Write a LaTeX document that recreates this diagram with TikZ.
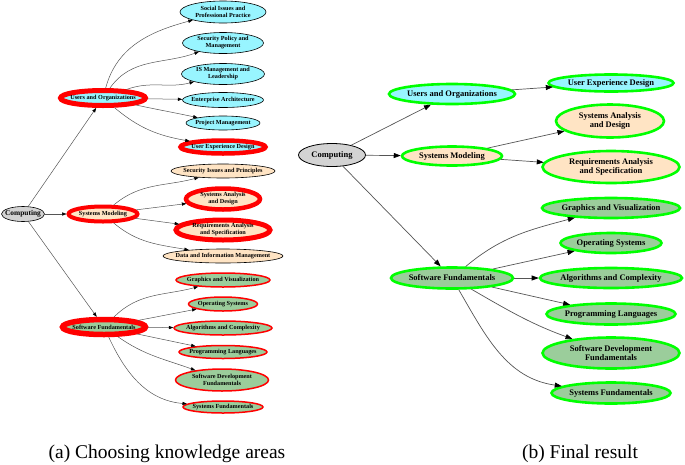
\documentclass[tikz,border=0pt]{standalone}
\usepackage{fontspec}
\setmainfont{Liberation Serif}
\usepackage{tikz}
\usetikzlibrary{arrows.meta,positioning,shapes.geometric}

\definecolor{rootgray}{HTML}{D3D3D3}
\definecolor{uocyan}{HTML}{98F5FF}
\definecolor{smbisque}{HTML}{FFE4C4}
\definecolor{sfgreen}{HTML}{9BCD9B}
\definecolor{pickred}{HTML}{FF0000}
\definecolor{keepgreen}{HTML}{00FF00}
\definecolor{edgegray}{HTML}{555555}

\begin{document}
\begin{tikzpicture}[
  x=1pt, y=-1pt,
  ka/.style={ellipse, draw=black, line width=0.6pt, inner sep=0pt},
  lt/.style={font=\fontsize{6.2}{7}\selectfont\rmfamily\bfseries, align=center},
  rt/.style={font=\fontsize{8.5}{9.6}\selectfont\rmfamily\bfseries, align=center},
  root/.style={ka, fill=rootgray},
  uo/.style={ka, fill=uocyan},
  sm/.style={ka, fill=smbisque},
  sf/.style={ka, fill=sfgreen},
  chosen/.style={draw=pickred, line width=#1},
  kept/.style={draw=keepgreen, line width=2.6pt},
  caption/.style={font=\fontsize{19.5}{22}\selectfont\rmfamily},
  larrow/.style={-{Triangle[length=4.5pt, width=3.2pt, color=black]}, draw=edgegray, line width=0.5pt},
  rarrow/.style={-{Triangle[length=7pt, width=5pt, color=black]}, draw=edgegray, line width=0.7pt}
]
\useasboundingbox (0,0) rectangle (685,464);

% (a) choosing knowledge areas
\node[root, minimum width=43, minimum height=15, label={[lt, font=\fontsize{7.4}{8}\selectfont\rmfamily\bfseries]center:Computing}] (lcomp) at (23,214) {};
\node[uo, chosen=5pt, minimum width=85, minimum height=15, label={[lt]center:Users and Organizations}] (luo) at (103,98) {};
\node[sm, chosen=4pt, minimum width=69, minimum height=15, label={[lt]center:Systems Modeling}] (lsm) at (103,214) {};
\node[sf, chosen=5.5pt, minimum width=83, minimum height=15, label={[lt]center:Software Fundamentals}] (lsf) at (104,327) {};

\node[uo, minimum width=86, minimum height=22, label={[lt]center:Social Issues and\\Professional Practice}] (lsipp) at (223,12) {};
\node[uo, minimum width=81, minimum height=21, label={[lt]center:Security Policy and\\Management}] (lspm) at (223,43) {};
\node[uo, minimum width=83, minimum height=21, label={[lt]center:IS Management and\\Leadership}] (lisml) at (223,74) {};
\node[uo, minimum width=81, minimum height=15, label={[lt]center:Enterprise Architecture}] (lea) at (223,100) {};
\node[uo, minimum width=74, minimum height=14, label={[lt]center:Project Management}] (lpm) at (223,123) {};
\node[uo, chosen=4.5pt, minimum width=85, minimum height=13, label={[lt]center:User Experience Design}] (luxd) at (223,147) {};

\node[sm, minimum width=104, minimum height=14, label={[lt]center:Security Issues and Principles}] (lsip) at (223,171) {};
\node[sm, chosen=4.5pt, minimum width=74, minimum height=21, label={[lt]center:Systems Analysis\\and Design}] (lsad) at (223,199) {};
\node[sm, chosen=5pt, minimum width=94, minimum height=20, label={[lt]center:Requirements Analysis\\and Specification}] (lras) at (223,230) {};
\node[sm, minimum width=120, minimum height=14, label={[lt]center:Data and Information Management}] (ldim) at (223,256) {};

\node[sf, chosen=1.5pt, minimum width=94, minimum height=14, label={[lt]center:Graphics and Visualization}] (lgv) at (223,280) {};
\node[sf, chosen=1.5pt, minimum width=69, minimum height=14, label={[lt]center:Operating Systems}] (los) at (223,304) {};
\node[sf, chosen=1.5pt, minimum width=98, minimum height=14, label={[lt]center:Algorithms and Complexity}] (lac) at (223,328) {};
\node[sf, chosen=1.5pt, minimum width=88, minimum height=13, label={[lt]center:Programming Languages}] (lpl) at (223,352) {};
\node[sf, chosen=1.5pt, minimum width=93, minimum height=22, label={[lt]center:Software Development\\Fundamentals}] (lsdf) at (222,380) {};
\node[sf, chosen=1.5pt, minimum width=80, minimum height=12, label={[lt]center:Systems Fundamentals}] (lsysf) at (223,407) {};

\draw[larrow] (lcomp) -- (luo);
\draw[larrow] (lcomp) -- (lsm);
\draw[larrow] (lcomp) -- (lsf);

\draw[larrow] (luo) to[out=75, in=195] (lsipp);
\draw[larrow] (luo) to[out=55, in=200] (lspm);
\draw[larrow] (luo) to[out=20, in=195] (lisml);
\draw[larrow] (luo) -- (lea);
\draw[larrow] (luo) to[out=-12, in=168] (lpm);
\draw[larrow] (luo) to[out=-40, in=170] (luxd);

\draw[larrow] (lsm) to[out=40, in=195] (lsip);
\draw[larrow] (lsm) -- (lsad);
\draw[larrow] (lsm) -- (lras);
\draw[larrow] (lsm) to[out=-40, in=170] (ldim);

\draw[larrow] (lsf) to[out=45, in=195] (lgv);
\draw[larrow] (lsf) -- (los);
\draw[larrow] (lsf) -- (lac);
\draw[larrow] (lsf) -- (lpl);
\draw[larrow] (lsf) to[out=-35, in=160] (lsdf);
\draw[larrow] (lsf) to[out=-65, in=175] (lsysf);

% (b) final result
\node[root, line width=0.8pt, minimum width=67, minimum height=23, label={[rt]center:Computing}] (rcomp) at (332,155) {};
\node[uo, kept, minimum width=126, minimum height=20, label={[rt]center:Users and Organizations}] (ruo) at (452,94) {};
\node[uo, kept, minimum width=125, minimum height=17, label={[rt]center:User Experience Design}] (ruxd) at (611,83) {};
\node[sm, kept, minimum width=100, minimum height=19, label={[rt]center:Systems Modeling}] (rsm) at (452,156) {};
\node[sm, kept, minimum width=108, minimum height=33, label={[rt]center:Systems Analysis\\and Design}] (rsad) at (610,121) {};
\node[sm, kept, minimum width=137, minimum height=32, label={[rt]center:Requirements Analysis\\and Specification}] (rras) at (611,167) {};
\node[sf, kept, minimum width=122, minimum height=21, label={[rt]center:Software Fundamentals}] (rsf) at (452,278) {};
\node[sf, kept, minimum width=138, minimum height=20, label={[rt]center:Graphics and Visualization}] (rgv) at (611,208) {};
\node[sf, kept, minimum width=101, minimum height=20, label={[rt]center:Operating Systems}] (ros) at (611,243) {};
\node[sf, kept, minimum width=142, minimum height=20, label={[rt]center:Algorithms and Complexity}] (rac) at (611,278) {};
\node[sf, kept, minimum width=129, minimum height=21, label={[rt]center:Programming Languages}] (rpl) at (611,314) {};
\node[sf, kept, minimum width=137, minimum height=31, label={[rt]center:Software Development\\Fundamentals}] (rsdf) at (611,353) {};
\node[sf, kept, minimum width=119, minimum height=21, label={[rt]center:Systems Fundamentals}] (rsysf) at (611,393) {};

\draw[rarrow] (rcomp) -- (ruo);
\draw[rarrow] (rcomp) -- (rsm);
\draw[rarrow] (rcomp) -- (rsf);
\draw[rarrow] (ruo) -- (ruxd);
\draw[rarrow] (rsm) -- (rsad);
\draw[rarrow] (rsm) -- (rras);
\draw[rarrow] (rsf) to[out=40, in=195] (rgv);
\draw[rarrow] (rsf) -- (ros);
\draw[rarrow] (rsf) -- (rac);
\draw[rarrow] (rsf) -- (rpl);
\draw[rarrow] (rsf) to[out=-30, in=160] (rsdf);
\draw[rarrow] (rsf) to[out=-60, in=172] (rsysf);

% captions
\node[caption] (capa) at (167,454) {(a) Choosing knowledge areas};
\node[caption] (capb) at (580,454) {(b) Final result};

\end{tikzpicture}
\end{document}
